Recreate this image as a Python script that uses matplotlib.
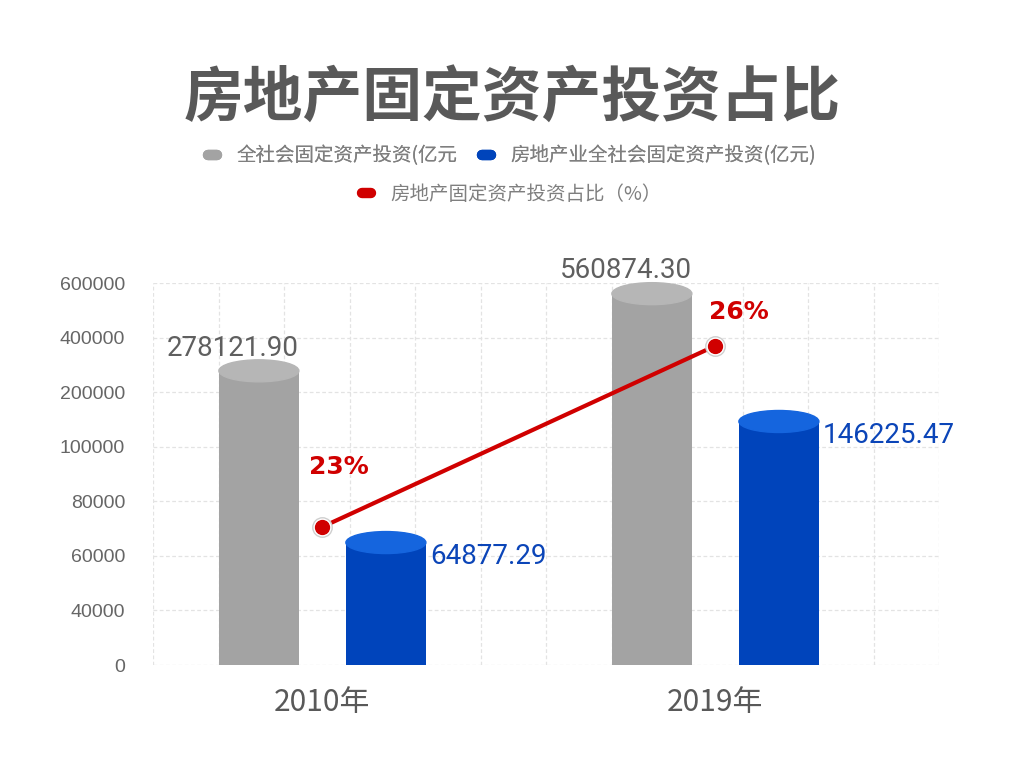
import matplotlib

matplotlib.use("Agg")
import matplotlib.pyplot as plt
import numpy as np
from matplotlib.lines import Line2D
from matplotlib.patches import Ellipse
from matplotlib.transforms import ScaledTranslation

plt.rcParams["font.family"] = ["Noto Sans CJK SC", "DejaVu Sans"]

# ---- data ----
YEARS = ["2010年", "2019年"]
TOTAL = [278121.90, 560874.30]  # 全社会固定资产投资(亿元)
REAL_ESTATE = [64877.29, 146225.47]  # 房地产业全社会固定资产投资(亿元)
SHARE = [23.33, 26.07]  # 占比 (%)
YTICKS = [0, 40000, 60000, 80000, 100000, 200000, 400000, 600000]

NAMES = ["全社会固定资产投资(亿元", "房地产业全社会固定资产投资(亿元)", "房地产固定资产投资占比（%）"]
GRAY, GRAY_TOP = "#a3a3a3", "#b6b6b6"
BLUE, BLUE_TOP = "#0044bb", "#1565de"
RED = "#d00000"

fig = plt.figure(figsize=(10.24, 7.68), dpi=100)
ax = fig.add_axes([153 / 1024, 1 - 665 / 768, 786 / 1024, 382 / 768])

# uneven axis: every tick is equally spaced
idx = np.arange(len(YTICKS), dtype=float)
ax.set_yscale(
    "function",
    functions=(lambda v: np.interp(v, YTICKS, idx), lambda i: np.interp(i, idx, YTICKS)),
)
ax.set_ylim(0, 600000)
ax.set_xlim(-0.431, 1.569)

x = np.arange(len(YEARS))
w = 0.2036
off = 0.1616

for vals, dx, body, top in [(TOTAL, -off, GRAY, GRAY_TOP), (REAL_ESTATE, off, BLUE, BLUE_TOP)]:
    ax.bar(x + dx, vals, w, color=body, zorder=3)
    for xi, v in zip(x + dx, vals):
        tr = fig.dpi_scale_trans + ScaledTranslation(xi, v, ax.transData)
        ax.add_patch(Ellipse((0, 0), 0.80, 0.22, transform=tr, color=top, zorder=4, clip_on=False))

for xi, v in zip(x - off, TOTAL):
    ax.annotate(f"{v:.2f}", (xi + w / 2, v), xytext=(0, 11), textcoords="offset points",
                ha="right", va="baseline", fontsize=20, color="#5f5f5f", family="Roboto",
                zorder=6)
for xi, v in zip(x + off, REAL_ESTATE):
    ax.annotate(f"{v:.2f}", (xi + w / 2, v), xytext=(3, -10), textcoords="offset points",
                ha="left", va="center", fontsize=20, color="#0b45b8", family="Roboto",
                zorder=6)

# share line on hidden twin axis
ax2 = ax.twinx()
ax2.set_ylim(21.24, 27.02)
ax2.plot(x, SHARE, color=RED, lw=3, zorder=5, solid_capstyle="butt")
ax2.plot(x, SHARE, "o", ms=14, mfc="white", mec="#cfcfcf", mew=1, zorder=6)
ax2.plot(x, SHARE, "o", ms=10, mfc=RED, mec=RED, zorder=7)
for xi, v, dxy in zip(x, SHARE, [(12, 43), (17, 24)]):
    ax2.annotate(f"{v:.0f}%", (xi, v), xytext=dxy, textcoords="offset points",
                 ha="center", va="center", fontsize=18, fontweight="bold", color=RED,
                 family="DejaVu Sans")
ax2.axis("off")

# grid & ticks
ax.set_yticks(YTICKS)
ax.set_yticklabels([str(t) for t in YTICKS], fontsize=14, color="#666666",
                   family="Liberation Sans")
ax.set_xticks(x)
ax.set_xticklabels(YEARS, fontsize=21.5, color="#595959")
ax.set_xticks(np.linspace(-0.431, 1.569, 13), minor=True)
ax.tick_params(axis="y", length=0, pad=20)
ax.tick_params(axis="x", which="both", length=0, pad=16)
ax.grid(True, which="minor", axis="x", ls=(0, (3, 2)), color="#e3e3e3", lw=0.9, zorder=0)
ax.grid(True, which="major", axis="y", ls=(0, (3, 2)), color="#e3e3e3", lw=0.9, zorder=0)
for s in ax.spines.values():
    s.set_visible(False)

# title & legends
fig.text(0.5, 0.87, "房地产固定资产投资占比", ha="center", va="center", fontsize=43,
         fontweight="bold", color="#595959")


def pill(c):
    return Line2D([0], [0], color=c, lw=7.5, solid_capstyle="round")


kw = dict(frameon=False, fontsize=14, labelcolor="#7f7f7f", handlelength=0.45,
          handletextpad=1.0, columnspacing=1.3, loc="center")
leg1 = fig.legend([pill(GRAY), pill(BLUE)], NAMES[:2], ncol=2,
                  bbox_to_anchor=(0.5, 1 - 156 / 768), **kw)
fig.add_artist(leg1)
fig.legend([pill(RED)], NAMES[2:], bbox_to_anchor=(0.5, 1 - 194 / 768), **kw)

fig.savefig("out.png", dpi=100)
